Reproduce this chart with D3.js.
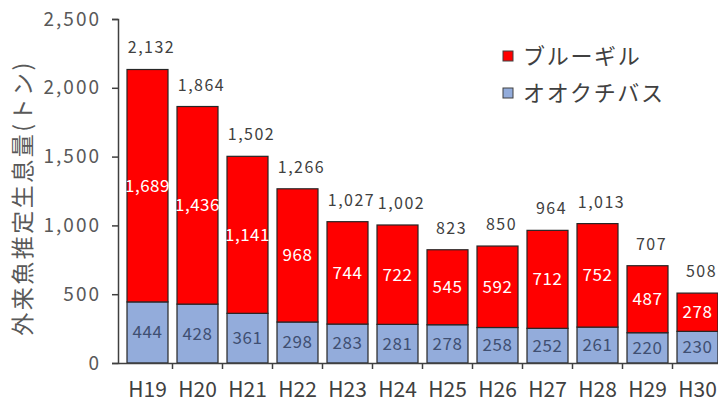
<!DOCTYPE html>
<html>
<head>
<meta charset="utf-8">
<script src="https://cdn.jsdelivr.net/npm/d3@7"></script>
<style>
  body { margin: 0; background: #fff; }
  text { font-family: "Noto Sans CJK JP", "Noto Sans", sans-serif; }
</style>
</head>
<body>
<svg width="718" height="405"></svg>
<script>
// 外来魚推定生息量 (トン)
const years = ["H19", "H20", "H21", "H22", "H23", "H24", "H25", "H26", "H27", "H28", "H29", "H30"];
const bass = [444, 428, 361, 298, 283, 281, 278, 258, 252, 261, 220, 230];
const bluegill = [1689, 1436, 1141, 968, 744, 722, 545, 592, 712, 752, 487, 278];
const totals = [2132, 1864, 1502, 1266, 1027, 1002, 823, 850, 964, 1013, 707, 508];
const yTicks = [0, 500, 1000, 1500, 2000, 2500];

const seriesNames = ["ブルーギル", "オオクチバス"];
const colors = ["#ff0000", "#93acdb"];

var svg = d3.select("svg"),
    plotLeft = 118,
    plotRight = 718,
    plotTop = 19,
    plotBottom = 363;

// band range runs a bit past the right edge, like the original
var x = d3.scaleBand()
    .domain(years)
    .range([plotLeft, plotLeft + 609])
    .paddingInner(0.18)
    .paddingOuter(0.18);

var y = d3.scaleLinear()
    .domain([0, 2500])
    .range([plotBottom, plotTop]);

var fmt = d3.format(",");

// y axis
var yAxis = svg.append("g")
    .attr("transform", "translate(" + plotLeft + ",0)")
    .call(d3.axisLeft(y).tickValues(yTicks).tickFormat(fmt).tickSize(6).tickPadding(11));
yAxis.select(".domain").attr("stroke", "#404040").attr("stroke-width", 1.5);
yAxis.selectAll(".tick line").attr("stroke", "#404040").attr("stroke-width", 1.5);
yAxis.selectAll(".tick text")
    .attr("fill", "#595959")
    .style("font-size", "19px")
    .style("letter-spacing", "2px");

// bars
var rows = years.map(function(d, i) {
    return { year: d, bass: bass[i], bluegill: bluegill[i], total: totals[i] };
});

var bars = svg.append("g").selectAll("g")
    .data(rows)
    .enter().append("g");

bars.append("rect")
    .attr("x", function(d) { return x(d.year); })
    .attr("width", x.bandwidth())
    .attr("y", function(d) { return y(d.bass); })
    .attr("height", function(d) { return plotBottom - y(d.bass); })
    .attr("fill", colors[1])
    .attr("stroke", "#262626")
    .attr("stroke-width", 1.2);

bars.append("rect")
    .attr("x", function(d) { return x(d.year); })
    .attr("width", x.bandwidth())
    .attr("y", function(d) { return y(d.bass + d.bluegill); })
    .attr("height", function(d) { return y(d.bass) - y(d.bass + d.bluegill); })
    .attr("fill", colors[0])
    .attr("stroke", "#262626")
    .attr("stroke-width", 1.2);

// labels inside segments
bars.append("text")
    .attr("x", function(d) { return x(d.year) + x.bandwidth() / 2; })
    .attr("y", function(d) { return y(d.bass / 2); })
    .attr("dy", "0.35em")
    .attr("text-anchor", "middle")
    .attr("fill", "#3f4f72")
    .style("font-size", "17px")
    .style("letter-spacing", "0.5px")
    .text(function(d) { return fmt(d.bass); });

bars.append("text")
    .attr("x", function(d) { return x(d.year) + x.bandwidth() / 2; })
    .attr("y", function(d) { return y(d.bass + d.bluegill / 2); })
    .attr("dy", "0.35em")
    .attr("text-anchor", "middle")
    .attr("fill", "#ffffff")
    .style("font-size", "17px")
    .style("letter-spacing", "0.5px")
    .text(function(d) { return fmt(d.bluegill); });

// totals above bars
bars.append("text")
    .attr("x", function(d) { return x(d.year) + x.bandwidth() / 2 + 4; })
    .attr("y", function(d) { return y(d.bass + d.bluegill) - 16; })
    .attr("text-anchor", "middle")
    .attr("fill", "#404040")
    .style("font-size", "16px")
    .style("letter-spacing", "1.5px")
    .text(function(d) { return fmt(d.total); });

// x axis
var xAxis = svg.append("g")
    .attr("transform", "translate(0," + plotBottom + ")")
    .call(d3.axisBottom(x).tickSize(0).tickPadding(19));
xAxis.select(".domain").attr("stroke", "#404040").attr("stroke-width", 1.5);
xAxis.selectAll(".tick text")
    .attr("fill", "#404040")
    .style("font-size", "21px");

// x ticks between categories
svg.append("g").selectAll("line")
    .data(years.slice(1))
    .enter().append("line")
    .attr("x1", function(d) { return x(d) - x.step() * x.paddingInner() / 2; })
    .attr("x2", function(d) { return x(d) - x.step() * x.paddingInner() / 2; })
    .attr("y1", plotBottom)
    .attr("y2", plotBottom + 6)
    .attr("stroke", "#404040")
    .attr("stroke-width", 1.5);

// y axis title
svg.append("text")
    .attr("transform", "translate(23,198) rotate(-90)")
    .attr("text-anchor", "middle")
    .attr("dy", "0.35em")
    .attr("fill", "#595959")
    .style("font-size", "23px")
    .style("letter-spacing", "2.5px")
    .text("外来魚推定生息量(トン)");

// legend
var legend = svg.append("g").selectAll("g")
    .data(seriesNames)
    .enter().append("g")
    .attr("transform", function(d, i) { return "translate(503," + (56 + i * 37) + ")"; });

legend.append("rect")
    .attr("x", 0)
    .attr("y", -5)
    .attr("width", 10)
    .attr("height", 10)
    .attr("fill", function(d, i) { return colors[i]; })
    .attr("stroke", "#404040")
    .attr("stroke-width", 1);

legend.append("text")
    .attr("x", 20)
    .attr("y", 0)
    .attr("dy", "0.36em")
    .attr("fill", "#404040")
    .style("font-size", "22px")
    .style("letter-spacing", "1.7px")
    .text(function(d) { return d; });
</script>
</body>
</html>
